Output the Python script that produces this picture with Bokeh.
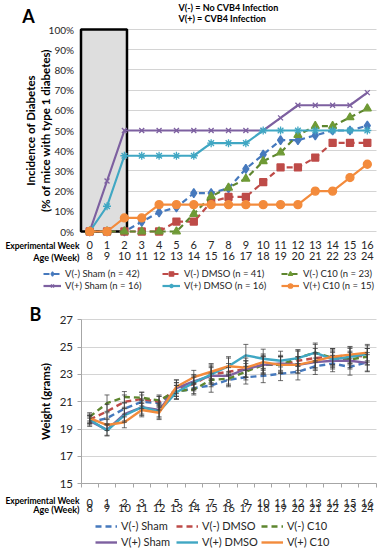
import math
from bokeh.plotting import figure
from bokeh.layouts import column
from bokeh.models import (Range1d, LinearAxis, FixedTicker, Label, Legend, LegendItem,
                          BoxAnnotation, Whisker, ColumnDataSource, TeeHead)
from bokeh.embed import file_html
from bokeh.resources import INLINE

# ---------------- data ----------------
weeks = list(range(17))
ages = [w + 8 for w in weeks]
treat_weeks = [0, 2]  # shaded treatment window (experimental weeks)

# Panel A: incidence of diabetes (%)
inc_vneg_sham = [0, 0, 0, 4.8, 9.5, 11.9, 19.0, 19.0, 21.4, 31.0, 38.1, 45.2, 45.2, 47.6, 50.0, 50.0, 52.4]
inc_vneg_dmso = [0, 0, 0, 0, 0, 4.9, 4.9, 14.6, 17.1, 17.1, 24.4, 31.7, 31.7, 36.6, 43.9, 43.9, 43.9]
inc_vneg_c10 = [0, 0, 0, 0, 0, 0, 8.7, 17.4, 21.7, 26.1, 34.8, 39.1, 47.8, 52.2, 52.2, 56.5, 60.9]
inc_vpos_sham = [0, 25, 50, 50, 50, 50, 50, 50, 50, 50, 50, 56.25, 62.5, 62.5, 62.5, 62.5, 68.75]
inc_vpos_dmso = [0, 12.5, 37.5, 37.5, 37.5, 37.5, 37.5, 43.75, 43.75, 43.75, 50, 50, 50, 50, 50, 50, 50]
inc_vpos_c10 = [0, 0, 6.7, 6.7, 13.3, 13.3, 13.3, 13.3, 13.3, 13.3, 13.3, 13.3, 13.3, 20.0, 20.0, 26.7, 33.3]

# Panel B: weight (grams) and error bars
wt_vneg_sham = [19.5, 19.8, 20.5, 21.0, 20.9, 21.7, 22.0, 22.2, 22.6, 22.8, 22.9, 23.05, 23.2, 23.6, 23.8, 23.55, 23.9]
wt_vneg_dmso = [19.7, 20.3, 21.0, 21.2, 21.0, 21.9, 22.3, 23.0, 23.2, 23.4, 23.7, 23.7, 24.0, 24.2, 24.3, 24.4, 24.3]
wt_vneg_c10 = [19.9, 20.9, 21.35, 21.3, 21.1, 21.8, 21.9, 22.6, 22.7, 23.2, 23.7, 23.7, 24.2, 24.6, 24.2, 24.1, 24.3]
wt_vpos_sham = [19.6, 18.95, 20.1, 20.6, 20.4, 22.0, 22.5, 22.9, 22.9, 23.4, 23.7, 23.8, 23.7, 23.9, 24.0, 24.0, 23.85]
wt_vpos_dmso = [19.7, 18.9, 20.0, 20.6, 20.3, 21.7, 22.4, 23.0, 23.6, 24.4, 24.15, 24.0, 24.2, 24.6, 24.1, 24.3, 24.5]
wt_vpos_c10 = [19.8, 19.3, 19.5, 20.4, 20.2, 22.1, 22.8, 23.2, 23.6, 23.5, 23.9, 23.7, 23.7, 24.0, 24.3, 24.45, 24.6]

err_vneg_sham = [0.3, 0.4, 0.4, 0.5, 0.5, 0.5, 0.4, 0.5, 0.5, 0.5, 0.5, 0.5, 0.6, 0.6, 0.6, 0.6, 0.7]
err_vneg_dmso = [0.3, 0.5, 0.5, 0.5, 0.4, 0.5, 0.5, 0.6, 0.6, 0.6, 0.6, 0.6, 0.7, 0.7, 0.6, 0.6, 0.6]
err_vneg_c10 = [0.3, 0.6, 0.4, 0.4, 0.4, 0.6, 0.4, 0.5, 0.5, 0.6, 0.6, 0.6, 0.6, 0.6, 0.6, 0.6, 0.6]
err_vpos_sham = [0.3, 0.4, 0.5, 0.6, 0.5, 0.6, 0.5, 0.6, 0.6, 0.6, 0.7, 0.6, 0.6, 0.6, 0.6, 0.6, 0.6]
err_vpos_dmso = [0.3, 0.4, 0.5, 0.5, 0.5, 0.5, 0.5, 0.7, 0.7, 0.8, 0.7, 0.7, 0.6, 0.7, 0.6, 0.6, 0.6]
err_vpos_c10 = [0.3, 0.4, 0.4, 0.5, 0.5, 0.5, 0.5, 0.6, 0.6, 0.7, 0.6, 0.6, 0.6, 0.6, 0.6, 0.6, 0.6]

names = ["V(-) Sham", "V(-) DMSO", "V(-) C10", "V(+) Sham", "V(+) DMSO", "V(+) C10"]
counts = [42, 41, 23, 16, 16, 15]
incidence = [inc_vneg_sham, inc_vneg_dmso, inc_vneg_c10, inc_vpos_sham, inc_vpos_dmso, inc_vpos_c10]
weights = [wt_vneg_sham, wt_vneg_dmso, wt_vneg_c10, wt_vpos_sham, wt_vpos_dmso, wt_vpos_c10]
errors = [err_vneg_sham, err_vneg_dmso, err_vneg_c10, err_vpos_sham, err_vpos_dmso, err_vpos_c10]

pct_ticks = list(range(0, 101, 10))
wt_ticks = list(range(15, 28, 2))

# ---------------- styles / geometry ----------------
colors = ["#4679BD", "#BE4B48", "#5E862F", "#7D60A0", "#40A7C3", "#F38B3C"]
marker_colors = ["#4679BD", "#BE4B48", "#6F9A36", "#7D60A0", "#40A7C3", "#F38B3C"]
dashes = ["6 4", "6 4", "6 4", "solid", "solid", "solid"]
markers = ["diamond", "square", "triangle", "x", "asterisk", "circle"]
msizes = [9, 7, 8, 7, 8, 8]
FONT = "Lato"
TXT = "#262626"
GRID = "#D4D4D4"

W = 381
HA, HB = 294, 255
TOP_A, TOP_B = 0, HA                 # page y of each figure's top
PL, PR = 80.5, 375.5                 # page x of plot-area left / right
XPX = (PR - PL) / 17.0

def dx(px):
    return -0.5 + (px - PL) / XPX

A_Y0PX, A_Y100PX = 231, 29           # page y of 0% and 100%
def ay(py):
    return (A_Y0PX - py) * 100.0 / (A_Y0PX - A_Y100PX)

B_15PX, B_27PX = 483.3, 319.3
def by(py):
    return 15 + (B_15PX - py) * 12.0 / (B_15PX - B_27PX)


def base_fig(height, top_px, yconv):
    p = figure(width=W, height=height, output_backend="svg", toolbar_location=None,
               x_range=Range1d(dx(0), dx(W)),
               y_range=Range1d(yconv(top_px + height), yconv(top_px)),
               min_border=0)
    p.outline_line_color = None
    p.xgrid.grid_line_color = None
    p.background_fill_color = "white"
    return p


def bottom_axes(p, y_at, line_color, minor_out, standoff_w, standoff_a):
    ax = p.xaxis[0]
    ax.fixed_location = y_at
    ax.bounds = (-0.5, 16.5)
    ax.ticker = FixedTicker(ticks=weeks, minor_ticks=[w - 0.5 for w in weeks] + [16.5])
    ax.major_label_overrides = {w: str(w) for w in weeks}
    ax.axis_line_color = line_color
    ax.major_tick_out = 0
    ax.major_tick_in = 0
    ax.minor_tick_out = minor_out
    ax.minor_tick_in = 0
    ax.minor_tick_line_color = line_color
    ax.major_label_standoff = standoff_w
    ax.major_label_text_font = FONT
    ax.major_label_text_font_size = "11px"
    ax.major_label_text_color = TXT
    ax2 = LinearAxis(ticker=FixedTicker(ticks=weeks), fixed_location=y_at, bounds=(-0.5, 16.5),
                     major_label_overrides={w: str(a) for w, a in zip(weeks, ages)})
    ax2.axis_line_color = None
    ax2.major_tick_out = 0
    ax2.major_tick_in = 0
    ax2.minor_tick_out = 0
    ax2.minor_tick_in = 0
    ax2.major_label_standoff = standoff_a
    ax2.major_label_text_font = FONT
    ax2.major_label_text_font_size = "11px"
    ax2.major_label_text_color = TXT
    p.add_layout(ax2, "below")


def left_axis(p, ticks, bounds, overrides, line_color, tick_out, standoff, size):
    ay_ = p.yaxis[0]
    ay_.fixed_location = -0.5
    ay_.bounds = bounds
    ay_.ticker = FixedTicker(ticks=ticks)
    if overrides:
        ay_.major_label_overrides = overrides
    ay_.axis_line_color = line_color
    ay_.major_tick_out = tick_out
    ay_.major_tick_in = 0
    ay_.major_tick_line_color = line_color
    ay_.minor_tick_line_color = None
    ay_.major_label_standoff = standoff
    ay_.major_label_text_font = FONT
    ay_.major_label_text_font_size = size
    ay_.major_label_text_color = TXT
    g = p.ygrid[0]
    g.ticker = FixedTicker(ticks=ticks)
    g.bounds = bounds
    g.cross_bounds = (-0.5, 16.5)
    g.grid_line_color = GRID


def add_label(p, text, x, y, size, bold=True, align="left", angle=0.0, color="black"):
    p.add_layout(Label(x=x, y=y, text=text, text_font=FONT, text_font_size=size,
                       text_font_style="bold" if bold else "normal", text_align=align,
                       text_baseline="middle", angle=angle, text_color=color))


# ---------------- Panel A ----------------
pa = base_fig(HA, TOP_A, ay)
left_axis(pa, pct_ticks, (0, 100), {t: f"{t}%" for t in pct_ticks}, None, 0, 7, "10px")
bottom_axes(pa, 0, None, 0, 9, 20)

pa.add_layout(BoxAnnotation(left=treat_weeks[0] - 0.5, right=treat_weeks[1] + 0.15,
                            bottom=0, top=100, fill_color="#DEDEDE", fill_alpha=1.0,
                            line_color="black", line_alpha=1.0, line_width=2.5,
                            level="underlay"))

items_a = []
for i in range(6):
    src = ColumnDataSource(dict(x=weeks, y=incidence[i]))
    ln = pa.line("x", "y", source=src, line_color=colors[i], line_width=2.2,
                 line_dash=dashes[i])
    sc = pa.scatter("x", "y", source=src, marker=markers[i], size=msizes[i],
                    fill_color=marker_colors[i], line_color=marker_colors[i], line_width=1.3)
    items_a.append(LegendItem(label=f"{names[i]} (n = {counts[i]})", renderers=[ln, sc]))

leg_a = Legend(items=items_a, orientation="horizontal", ncols=3, location=(43, 3),
               label_text_font=FONT, label_text_font_size="9.5px", label_text_color=TXT,
               glyph_width=18, glyph_height=11, label_height=11, label_width=96,
               label_standoff=4, spacing=1, padding=0, margin=0, border_line_color=None,
               background_fill_alpha=0)
pa.add_layout(leg_a, "center")

add_label(pa, "A", dx(28), ay(15), "18px", align="center")
add_label(pa, "V(-) = No CVB4 Infection", dx(178), ay(6.5), "9px")
add_label(pa, "V(+) = CVB4 Infection", dx(178), ay(17.5), "9px")
add_label(pa, "Incidence of Diabetes", dx(30), ay(130), "11.5px", align="center", angle=math.pi / 2)
add_label(pa, "(% of mice with type 1 diabetes)", dx(45), ay(130), "11.5px", align="center", angle=math.pi / 2)
add_label(pa, "Experimental Week", dx(79), ay(245.5), "8.5px", align="right")
add_label(pa, "Age (Week)", dx(79), ay(257), "9px", align="right")

# ---------------- Panel B ----------------
pb = base_fig(HB, TOP_B, by)
left_axis(pb, wt_ticks, (15, 27), None, "#A6A6A6", 4, 4, "11.5px")
bottom_axes(pb, 15, "#A6A6A6", 4, 11, 20)

items_b = []
for i in range(6):
    e = errors[i]
    src = ColumnDataSource(dict(x=weeks, y=weights[i],
                                lo=[v - d for v, d in zip(weights[i], e)],
                                hi=[v + d for v, d in zip(weights[i], e)]))
    wk = Whisker(source=src, base="x", lower="lo", upper="hi", line_color="#3C3C3C",
                 line_width=1, line_alpha=0.75,
                 upper_head=TeeHead(size=5, line_color="#3C3C3C", line_alpha=0.75),
                 lower_head=TeeHead(size=5, line_color="#3C3C3C", line_alpha=0.75),
                 level="glyph")
    pb.add_layout(wk)
    ln = pb.line("x", "y", source=src, line_color=colors[i], line_width=2.4,
                 line_dash=dashes[i])
    items_b.append(LegendItem(label=names[i], renderers=[ln]))

leg_b = Legend(items=items_b, orientation="horizontal", ncols=3, location=(95, 1),
               label_text_font=FONT, label_text_font_size="11px", label_text_color=TXT,
               glyph_width=22, glyph_height=12, label_height=12, label_width=52,
               label_standoff=4, spacing=3, padding=0, margin=0, border_line_color=None,
               background_fill_alpha=0)
pb.add_layout(leg_b, "center")

add_label(pb, "B", dx(35), by(313), "18px", align="center")
add_label(pb, "Weight (grams)", dx(45), by(401), "11.5px", align="center", angle=math.pi / 2)
add_label(pb, "Experimental Week", dx(79), by(500), "8.5px", align="right")
add_label(pb, "Age (Week)", dx(79), by(509), "9px", align="right")

layout = column(pa, pb, spacing=0)
open("out.html", "w").write(file_html(layout, INLINE))
